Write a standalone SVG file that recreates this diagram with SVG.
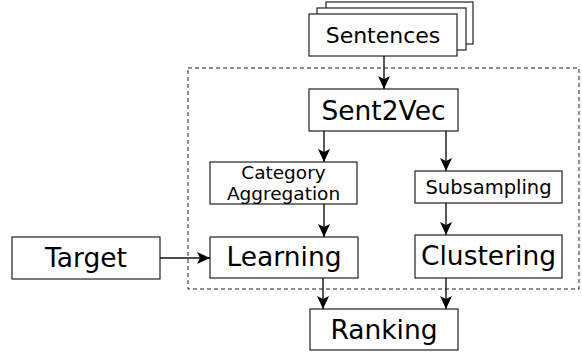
<svg xmlns="http://www.w3.org/2000/svg" width="582" height="358" viewBox="0 0 582 358">
<defs>
<marker id="ah" markerWidth="13" markerHeight="12" viewBox="0 0 13 12" refX="13" refY="6" orient="auto" markerUnits="userSpaceOnUse">
<path d="M0,0 L13,6 L0,12 L3,6 Z" fill="#000"/>
</marker>
</defs>
<style>
.box{fill:#fff;stroke:#222;stroke-width:1.2}
.t{font-family:"DejaVu Sans",sans-serif;fill:#000;text-anchor:middle}
.big{font-size:26.5px}
.mid{font-size:22px}
.sm{font-size:19.5px}
.sm2{font-size:18.5px}
.c{fill:none;stroke:#111;stroke-width:1.4;marker-end:url(#ah)}
</style>
<rect x="188" y="68" width="391" height="221" fill="none" stroke="#222" stroke-width="1" stroke-dasharray="4,3"/>
<g id="sentences">
<rect class="box" x="326" y="2" width="147" height="42"/>
<rect class="box" x="317" y="8" width="149" height="42"/>
<rect class="box" x="309" y="14" width="148" height="42"/>
<text class="t mid" x="383" y="43">Sentences</text>
</g>
<g id="sent2vec">
<rect class="box" x="309" y="89" width="149" height="42"/>
<text class="t big" x="383.5" y="119.5">Sent2Vec</text>
</g>
<g id="category">
<rect class="box" x="210" y="162" width="147" height="42"/>
<text class="t sm2" x="283.5" y="179">Category</text>
<text class="t sm2" x="283.5" y="199.5">Aggregation</text>
</g>
<g id="subsampling">
<rect class="box" x="415" y="171" width="147" height="32"/>
<text class="t sm" x="488.5" y="194">Subsampling</text>
</g>
<g id="target">
<rect class="box" x="12" y="237" width="148" height="42"/>
<text class="t big" x="86" y="267">Target</text>
</g>
<g id="learning">
<rect class="box" x="210" y="237" width="148" height="41"/>
<text class="t big" x="284" y="266">Learning</text>
</g>
<g id="clustering">
<rect class="box" x="415" y="235" width="147" height="43"/>
<text class="t big" x="488.5" y="265">Clustering</text>
</g>
<g id="ranking">
<rect class="box" x="310" y="309" width="148" height="41"/>
<text class="t big" x="384" y="339">Ranking</text>
</g>
<g id="connectors">
<path class="c" d="M384,56 V89"/>
<path class="c" d="M324,131 V162"/>
<path class="c" d="M446,131 V171"/>
<path class="c" d="M324,204 V237"/>
<path class="c" d="M446,203 V235"/>
<path class="c" d="M160,258 H210"/>
<path class="c" d="M323,278 V309"/>
<path class="c" d="M446,278 V309"/>
</g>
</svg>
